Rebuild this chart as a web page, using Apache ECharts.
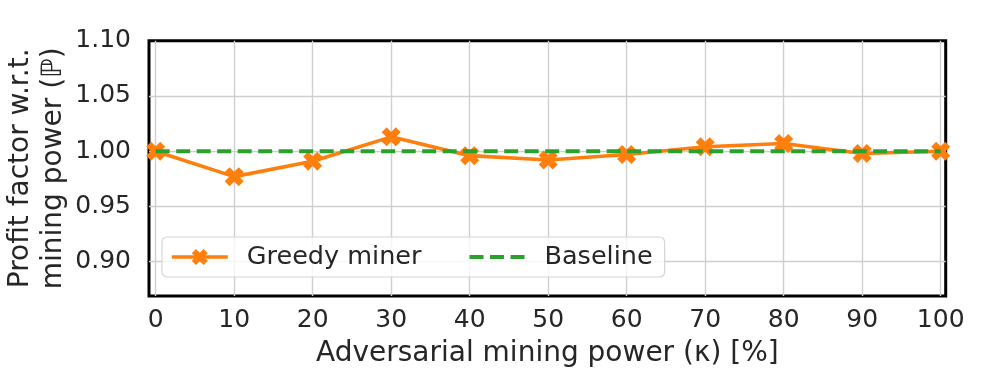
<!DOCTYPE html>
<html>
<head>
<meta charset="utf-8">
<script src="https://cdn.jsdelivr.net/npm/echarts@6/dist/echarts.min.js"></script>
<style>
  html, body { margin: 0; padding: 0; background: #fff; }
  #chart { width: 997px; height: 374px; }
</style>
</head>
<body>
<div id="chart"></div>
<script>
const kappa = [0, 10, 20, 30, 40, 50, 60, 70, 80, 90, 100]
const greedyMiner = [1.000, 0.977, 0.991, 1.013, 0.996, 0.992, 0.997, 1.004, 1.007, 0.998, 1.000]
const baseline = [1, 1, 1, 1, 1, 1, 1, 1, 1, 1, 1]
const xTicks = [0, 10, 20, 30, 40, 50, 60, 70, 80, 90, 100]
const yTicks = [0.90, 0.95, 1.00, 1.05, 1.10]

const FONT = 'DejaVu Sans'
const TEXT = '#262626'
const ORANGE = '#ff7f0e'
const GREEN = '#2ca02c'
const xMark = 'path://M0,2.6 L2.6,0 L5,2.4 L7.4,0 L10,2.6 L7.6,5 L10,7.4 L7.4,10 L5,7.6 L2.6,10 L0,7.4 L2.4,5 Z'

const chart = echarts.init(document.getElementById('chart'))

const option = {
  animation: false,
  textStyle: { fontFamily: FONT, color: TEXT },
  grid: {
    left: 149, top: 40.7, width: 796.7, height: 255.3,
    outerBoundsMode: 'none',
    show: true, borderColor: '#000', borderWidth: 3, backgroundColor: '#fff'
  },
  legend: {
    left: 162, top: 237,
    padding: [7, 12, 7, 8],
    itemGap: 46,
    itemWidth: 56, itemHeight: 20,
    backgroundColor: 'rgba(255,255,255,0.8)',
    borderColor: '#d6d6d6', borderWidth: 1.2, borderRadius: 5,
    textStyle: { fontFamily: FONT, fontSize: 25.5, color: TEXT, padding: [0, 0, 0, 14] },
    data: [
      { name: 'Greedy miner', lineStyle: { width: 3.6 } },
      { name: 'Baseline', lineStyle: { width: 4 }, itemStyle: { opacity: 0 } }
    ]
  },
  xAxis: {
    type: 'value',
    min: -0.85, max: 100.64,
    name: 'Adversarial mining power (κ) [%]',
    nameLocation: 'middle', nameGap: 44, nameMoveOverlap: false,
    nameTextStyle: { fontFamily: FONT, fontSize: 28, color: TEXT },
    axisLine: { show: false },
    axisTick: { show: false, customValues: xTicks },
    axisLabel: { customValues: xTicks, fontFamily: FONT, fontSize: 25, color: TEXT, margin: 12 },
    splitLine: { show: true, lineStyle: { color: '#cfcfcf', width: 1.4 } }
  },
  yAxis: {
    type: 'value',
    min: 0.869, max: 1.10,
    name: 'Profit factor w.r.t.\nmining power (ℙ)',
    nameLocation: 'middle', nameGap: 79, nameRotate: 90, nameMoveOverlap: false,
    nameTextStyle: { fontFamily: FONT, fontSize: 28, color: TEXT, lineHeight: 33 },
    axisLine: { show: false },
    // 1.10 sits on the frame, so its grid line is left out
    axisTick: { show: false, customValues: yTicks.slice(0, 4) },
    axisLabel: {
      customValues: yTicks, fontFamily: FONT, fontSize: 25, color: TEXT, margin: 18,
      formatter: v => v.toFixed(2)
    },
    splitLine: { show: true, lineStyle: { color: '#cfcfcf', width: 1.4 } }
  },
  series: [
    {
      name: 'Greedy miner',
      type: 'line',
      data: kappa.map((k, i) => [k, greedyMiner[i]]),
      symbol: xMark, symbolSize: 19,
      lineStyle: { color: ORANGE, width: 3.6 },
      itemStyle: { color: ORANGE },
      z: 2
    },
    {
      name: 'Baseline',
      type: 'line',
      data: kappa.map((k, i) => [k, baseline[i]]),
      showSymbol: false,
      lineStyle: { color: GREEN, width: 4, type: [14, 6.5] },
      itemStyle: { color: GREEN },
      z: 3
    }
  ]
}

chart.setOption(option)
window.addEventListener('resize', () => chart.resize())
</script>
</body>
</html>
